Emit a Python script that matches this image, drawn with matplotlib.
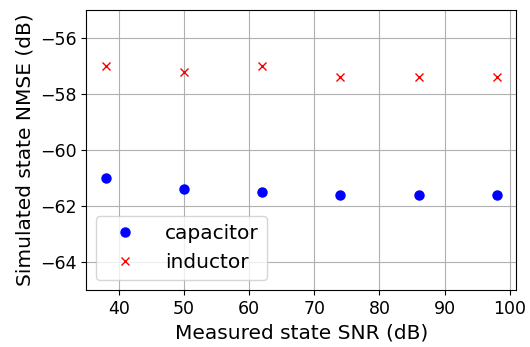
import numpy as np
import matplotlib
matplotlib.use("Agg")
import matplotlib.pyplot as plt

# measured SNR levels (dB)
snr = [38, 50, 62, 74, 86, 98]
# simulated state NMSE (dB)
nmse_capacitor = [-61.0, -61.4, -61.5, -61.6, -61.6, -61.6]
nmse_inductor = [-57.0, -57.2, -57.0, -57.4, -57.4, -57.4]

fig, ax = plt.subplots(figsize=(5.3, 3.47), dpi=100)
ax.plot(snr, nmse_capacitor, 'bo', markersize=6.5, label='capacitor')
ax.plot(snr, nmse_inductor, 'rx', markersize=5.5, label='inductor')

ax.set_ylim(-65, -55)
ax.set_yticks([-64, -62, -60, -58, -56])
ax.set_xlabel('Measured state SNR (dB)', fontsize=14.5)
ax.set_ylabel('Simulated state NMSE (dB)', fontsize=14.5)
ax.tick_params(labelsize=12.5)
ax.grid(True)
ax.legend(fontsize=14.5, loc='lower left', handletextpad=1.0)

plt.subplots_adjust(left=0.163, right=0.974, top=0.971, bottom=0.164)
plt.savefig('out.png')
